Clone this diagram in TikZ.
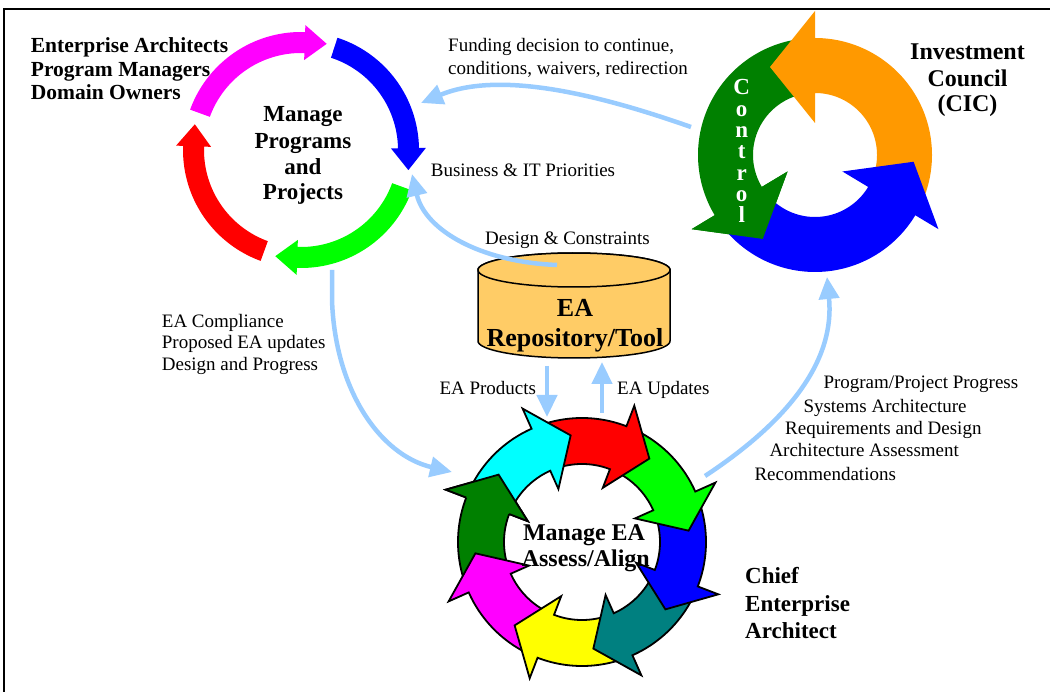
\documentclass[tikz,border=0pt]{standalone}
\usepackage{fontspec}
\setmainfont{Liberation Serif}
\usetikzlibrary{arrows.meta,calc}
\definecolor{lblue}{HTML}{99CCFF}
\definecolor{cylfill}{HTML}{FFCC66}
\definecolor{orng}{HTML}{FF9900}
\definecolor{dgreen}{HTML}{008000}
\definecolor{tealc}{HTML}{008080}
\definecolor{magc}{HTML}{FF00FF}
\definecolor{cyanc}{HTML}{00FFFF}
\definecolor{redc}{HTML}{FF0000}
\definecolor{greenc}{HTML}{00FF00}
\definecolor{bluec}{HTML}{0000FF}
\definecolor{yellowc}{HTML}{FFFF00}
\newcommand\ringseg[4]{%
  \path[#1] plot[domain=#2:#3,samples=60] ({\CX+\ROut*cos(\x)},{\CY+\ROut*sin(\x)})
  -- ({\CX+\SOut*cos(#3)},{\CY+\SOut*sin(#3)})
  -- ({\CX+\RTip*cos(#3)+\LTip*cos(#3+(#4))},{\CY+\RTip*sin(#3)+\LTip*sin(#3+(#4))})
  -- ({\CX+\SIn*cos(#3)},{\CY+\SIn*sin(#3)})
  -- plot[domain=#3:#2,samples=60] ({\CX+\RIn*cos(\x)},{\CY+\RIn*sin(\x)}) -- cycle;}
\newcommand\headfill[3]{%
  \path[#1] ({\CX+\SOut*cos(#2)},{\CY+\SOut*sin(#2)})
  -- ({\CX+\RTip*cos(#2)+\LTip*cos(#2+(#3))},{\CY+\RTip*sin(#2)+\LTip*sin(#2+(#3))})
  -- ({\CX+\SIn*cos(#2)},{\CY+\SIn*sin(#2)}) -- cycle;}
\newcommand\headedge[3]{%
  \path[#1] ({\CX+\ROut*cos(#2)},{\CY+\ROut*sin(#2)})
  -- ({\CX+\SOut*cos(#2)},{\CY+\SOut*sin(#2)})
  -- ({\CX+\RTip*cos(#2)+\LTip*cos(#2+(#3))},{\CY+\RTip*sin(#2)+\LTip*sin(#2+(#3))})
  -- ({\CX+\SIn*cos(#2)},{\CY+\SIn*sin(#2)})
  -- ({\CX+\RIn*cos(#2)},{\CY+\RIn*sin(#2)});}
\tikzset{
  conn/.style={draw=lblue, line width=4.5pt, -{Triangle[length=22pt,width=20pt]}},
  lbl/.style={font=\fontsize{19}{22}\selectfont, inner sep=0pt, anchor=base west},
  bwho/.style={font=\fontsize{21.5}{24}\selectfont\bfseries, inner sep=0pt, anchor=base west},
  bctr/.style={font=\fontsize{23}{26}\selectfont\bfseries, inner sep=0pt, anchor=base},
  ctrl/.style={font=\fontsize{23}{23}\selectfont\bfseries, text=white, inner sep=0pt, anchor=base},
  cylstyle/.style={fill=cylfill, draw=black, line width=1.5pt},
  eaarrow/.style={draw=black, line width=1.8pt, fill=#1}
}
\begin{document}
\begin{tikzpicture}[x=1pt,y=-1pt]
\useasboundingbox (0,0) rectangle (1050,692);
\fill[white] (0,0) rectangle (1050,692);
\draw[line width=2.3pt] (4,692) -- (4,9) -- (1050,9);

% connectors behind shapes
\coordinate (f0) at (691,127); \coordinate (f1) at (421,103);
\draw[conn] (f0) .. controls (600,95) and (500,70) .. (f1);
\coordinate (c0) at (332,270); \coordinate (c0b) at (332,300); \coordinate (c1) at (452,472);
\draw[conn] (c0) -- (c0b) .. controls (335,390) and (380,455) .. (c1);
\coordinate (g0) at (705,476); \coordinate (g1) at (827,277);
\draw[conn] (g0) .. controls (790,420) and (835,360) .. (g1);

% top-left ring
\def\CX{301}\def\CY{150}\def\RIn{97}\def\ROut{118}\def\SIn{90}\def\SOut{125}\def\RTip{107}\def\LTip{22}
\ringseg{fill=magc}{200}{272}{90}
\ringseg{fill=bluec}{288}{359}{90}
\ringseg{fill=greenc}{20}{92}{90}
\ringseg{fill=redc}{110}{182}{90}

% top-right ring
\def\CX{815}\def\CY{155}\def\RIn{62}\def\ROut{117}\def\SIn{32}\def\SOut{144}\def\RTip{88}\def\LTip{45}
\ringseg{fill=dgreen}{267}{149}{-90}
\ringseg{fill=orng}{28}{-90}{-90}
\ringseg{fill=bluec}{146}{31}{-90}
\headfill{fill=dgreen}{149}{-90}
\foreach \ch [count=\i from 0] in {C,o,n,t,r,o,l}
  \node[ctrl] (ctrl\i) at (741.7,{95+21.3*\i}) {\ch};

% bottom ring
\def\CX{582}\def\CY{542}\def\RIn{78}\def\ROut{124}\def\SIn{58}\def\SOut{146}\def\RTip{102}\def\LTip{33}
\ringseg{eaarrow=dgreen}{524}{561}{90}
\ringseg{eaarrow=magc}{479}{516}{90}
\ringseg{eaarrow=yellowc}{434}{471}{90}
\ringseg{eaarrow=tealc}{389}{426}{90}
\ringseg{eaarrow=bluec}{344}{381}{90}
\ringseg{eaarrow=greenc}{299}{336}{90}
\ringseg{eaarrow=redc}{254}{291}{90}
\ringseg{eaarrow=cyanc}{209}{246}{90}
\headfill{fill=dgreen}{561}{90}
\headedge{draw=black,line width=1.8pt}{561}{90}

% cylinder
\filldraw[cylstyle] (478,270) -- (478,341) -- plot[domain=180:0,samples=60] ({574+96*cos(\x)},{341+17*sin(\x)}) -- (670,270) -- plot[domain=0:-180,samples=60] ({574+96*cos(\x)},{270+17*sin(\x)}) -- cycle;
\filldraw[cylstyle] plot[domain=0:360,samples=120] ({574+96*cos(\x)},{270+17*sin(\x)}) -- cycle;
\coordinate (d0) at (557,265); \coordinate (d1) at (412,174);
\draw[conn] (d0) .. controls (480,262) and (425,230) .. (d1);
\coordinate (p0) at (547,366); \coordinate (p1) at (547,417);
\draw[conn] (p0) -- (p1);
\coordinate (u0) at (602,413); \coordinate (u1) at (602,362);
\draw[conn] (u0) -- (u1);

% texts
\node[bwho] (w1) at (30.7,52.7) {Enterprise Architects};
\node[bwho] (w2) at (30.7,76.7) {Program Managers};
\node[bwho] (w3) at (30.7,100) {Domain Owners};
\node[bctr] (m1) at (303,121.7) {Manage};
\node[bctr] (m2) at (303,148.3) {Programs};
\node[bctr] (m3) at (303,175) {and};
\node[bctr] (m4) at (303,200) {Projects};
\node[bctr,font=\fontsize{24}{26}\selectfont\bfseries] (i1) at (967.5,60) {Investment};
\node[bctr,font=\fontsize{24}{26}\selectfont\bfseries] (i2) at (967.5,86.5) {Council};
\node[bctr,font=\fontsize{24}{26}\selectfont\bfseries] (i3) at (967.5,112) {(CIC)};
\node[lbl] (fd1) at (448,51.7) {Funding decision to continue,};
\node[lbl] (fd2) at (448,75) {conditions, waivers, redirection};
\node[lbl] (biz) at (430.7,176.7) {Business \& IT Priorities};
\node[lbl] (dc) at (485,245) {Design \& Constraints};
\node[lbl] (cp1) at (161.7,327.3) {EA Compliance};
\node[lbl] (cp2) at (161.7,349) {Proposed EA updates};
\node[lbl] (cp3) at (161.7,370.7) {Design and Progress};
\node[lbl] (prod) at (439.3,394.3) {EA Products};
\node[lbl] (upd) at (617,394.3) {EA Updates};
\node[lbl] (pg1) at (823.3,389) {Program/Project Progress};
\node[lbl] (pg2) at (803.3,412.3) {Systems Architecture};
\node[lbl] (pg3) at (785,435) {Requirements and Design};
\node[lbl] (pg4) at (769.3,456.7) {Architecture Assessment};
\node[lbl] (pg5) at (754.3,480) {Recommendations};
\node[bctr,font=\fontsize{26}{30}\selectfont\bfseries] (r1) at (575,317) {EA};
\node[bctr,font=\fontsize{26}{30}\selectfont\bfseries] (r2) at (575,347) {Repository/Tool};
\node[bctr,font=\fontsize{24}{26}\selectfont\bfseries] (e1) at (584,540.7) {Manage EA};
\node[bctr,font=\fontsize{24}{26}\selectfont\bfseries] (e2) at (585.8,566.7) {Assess/Align};
\node[bwho,font=\fontsize{23}{26}\selectfont\bfseries] (ch1) at (745,583.3) {Chief};
\node[bwho,font=\fontsize{23}{26}\selectfont\bfseries] (ch2) at (745,611.7) {Enterprise};
\node[bwho,font=\fontsize{23}{26}\selectfont\bfseries] (ch3) at (745,638.3) {Architect};
\end{tikzpicture}
\end{document}
